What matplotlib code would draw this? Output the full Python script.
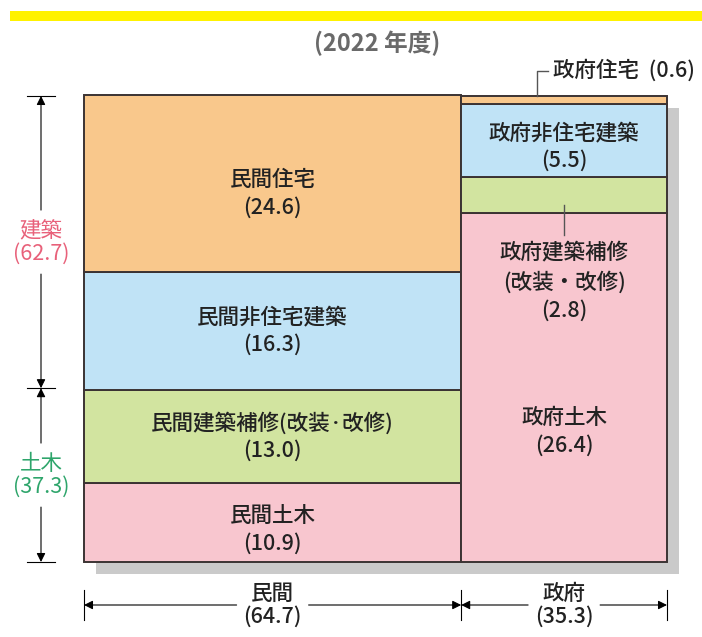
import matplotlib
matplotlib.use("Agg")
import numpy as np
import matplotlib.pyplot as plt
from matplotlib.patches import Rectangle

plt.rcParams['font.family'] = ['Noto Sans CJK JP', 'DejaVu Sans']

# data (2022年度, %)
sectors = ['民間', '政府']
sector_totals = [64.7, 35.3]
categories = ['土木', '建築補修', '非住宅建築', '住宅']   # bottom -> top
private_values = [10.9, 13.0, 16.3, 24.6]
public_values = [26.4, 2.8, 5.5, 0.6]
private_names = ['民間土木', '民間建築補修(改装·改修)', '民間非住宅建築', '民間住宅']
public_names = ['政府土木', '政府建築補修\n(改装・改修)', '政府非住宅建築', '政府住宅']
type_names = ['土木', '建築']
type_totals = [37.3, 62.7]
title = '(2022 年度)'

colors = ['#F8C6CF', '#D2E4A0', '#C0E3F6', '#F9C88C']
type_colors = ['#2EA56B', '#E8617A']
edge = '#3b3333'
FS = 15.5

# layout in pixels
W, H = 702, 637
X0, X1, YT, YB = 84, 667, 96, 562
sx = 100 / (X1 - X0)
sy = 100 / (YB - YT)


def px(x):
    return (x - X0) * sx


def py(y):
    return (YB - y) * sy


fig = plt.figure(figsize=(W / 100, H / 100), dpi=100)
ax = fig.add_axes([0, 0, 1, 1])
ax.set_xlim(px(0), px(W))
ax.set_ylim(py(H), py(0))
ax.axis('off')

# yellow band and title
ax.add_patch(Rectangle((px(10), py(21)), px(W) - px(10), py(11) - py(21),
                       color='#FFF200', lw=0))
ax.text(px(377), py(43), title, ha='center', va='center', fontsize=17,
        fontweight='bold', color='#6a6a6a')

# shadow
ax.bar(12 * sx, 100, width=100, bottom=-12 * sy, align='edge',
       color='#CACACA', lw=0, zorder=0)

# stacked columns
lefts = np.concatenate([[0], np.cumsum(sector_totals)[:-1]])
label_dy = {0: [7, 0, 0, 10], 1: [44, 0, 7, 0]}  # px, downward
for i, vals in enumerate([private_values, public_values]):
    h = np.array(vals) / sector_totals[i] * 100
    bottoms = np.concatenate([[0], np.cumsum(h)[:-1]])
    ax.bar([lefts[i]] * len(h), h, width=sector_totals[i], bottom=bottoms,
           align='edge', color=colors, edgecolor=edge, lw=1.4, zorder=2)
    cx = lefts[i] + sector_totals[i] / 2
    names = private_names if i == 0 else public_names
    for j in range(len(h)):
        if i == 1 and j in (1, 3):
            continue
        cy = bottoms[j] + h[j] / 2 - label_dy[i][j] * sy
        ax.text(cx, cy, f'{names[j]}\n({vals[j]})', ha='center', va='center',
                fontsize=FS, linespacing=1.3, fontweight='medium',
                color='#222222', zorder=3)

# small public segments: leader lines
h_pub = np.array(public_values) / sector_totals[1] * 100
b_pub = np.concatenate([[0], np.cumsum(h_pub)[:-1]])
cx_pub = lefts[1] + sector_totals[1] / 2
# 政府建築補修
ax.plot([cx_pub, cx_pub], [py(205), py(235)], color='#555555', lw=1, zorder=3)
ax.text(cx_pub, py(282), f'{public_names[1]}\n({public_values[1]})',
        ha='center', va='center', fontsize=FS, linespacing=1.35,
        fontweight='medium', color='#222222', zorder=3)
# 政府住宅
lx = px(537)
ax.plot([lx, lx, px(548)], [100, py(71), py(71)], color='#555555', lw=1)
ax.text(px(553), py(71), f'{public_names[3]}  ({public_values[3]})',
        ha='left', va='center', fontsize=FS, fontweight='medium',
        color='#222222')

arrow = dict(arrowstyle='-|>', color='k', lw=0.8, mutation_scale=13,
             shrinkA=0, shrinkB=0)

# left dimension (土木 / 建築)
dx = px(41)
tick_half = 14 * sx
tb = np.concatenate([[0], np.cumsum(type_totals)])
for t in tb:
    ax.plot([dx - tick_half, dx + tick_half], [t, t], color='k', lw=0.8)
gap = 32 * sy
for k in range(len(type_totals)):
    mid = (tb[k] + tb[k + 1]) / 2
    ax.annotate('', xy=(dx, tb[k]), xytext=(dx, mid - gap), arrowprops=arrow)
    ax.annotate('', xy=(dx, tb[k + 1]), xytext=(dx, mid + gap), arrowprops=arrow)
    ax.text(dx, mid, f'{type_names[k]}\n({type_totals[k]})', ha='center',
            va='center', fontsize=FS, linespacing=1.05, color=type_colors[k])

# bottom dimension (民間 / 政府)
dy = py(605)
tick_h = 15 * sy
sb = np.concatenate([[0], np.cumsum(sector_totals)])
for s in sb:
    ax.plot([s, s], [dy - tick_h, dy + tick_h], color='k', lw=0.8)
gapx = 36 * sx
for k in range(len(sector_totals)):
    mid = (sb[k] + sb[k + 1]) / 2
    ax.annotate('', xy=(sb[k], dy), xytext=(mid - gapx, dy), arrowprops=arrow)
    ax.annotate('', xy=(sb[k + 1], dy), xytext=(mid + gapx, dy), arrowprops=arrow)
    ax.text(mid, dy, f'{sectors[k]}\n({sector_totals[k]})', ha='center',
            va='center', fontsize=FS, linespacing=1.05, fontweight='medium',
            color='#222222')

fig.savefig('out.png', dpi=100)
